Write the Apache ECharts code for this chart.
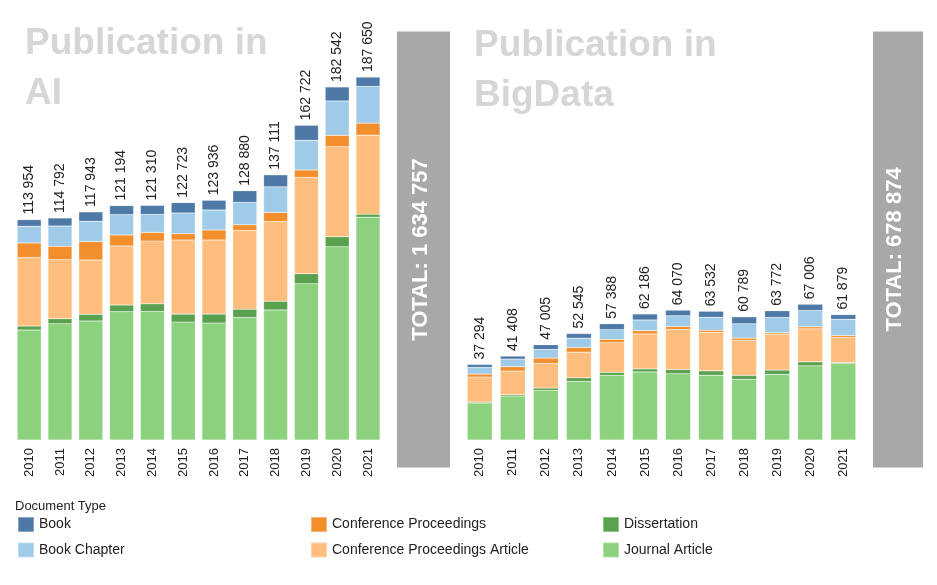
<!DOCTYPE html>
<html lang="en">
<head>
    <meta charset="UTF-8">
    <title>Publication in AI / BigData</title>
    <script src="https://cdn.jsdelivr.net/npm/echarts@6/dist/echarts.min.js"></script>
    <style>
        html, body { margin: 0; padding: 0; background: #fff; }
        #main { width: 937px; height: 585px; }
    </style>
</head>
<body>
<div id="main"></div>
<script>
    var years = ['2010', '2011', '2012', '2013', '2014', '2015', '2016', '2017', '2018', '2019', '2020', '2021'];
    var docTypes = ['Journal Article', 'Dissertation', 'Conference Proceedings Article', 'Conference Proceedings', 'Book Chapter', 'Book'];
    var colors = ['#8cd17d', '#59a14f', '#ffbe7d', '#f28e2b', '#a0cbe8', '#4e79a7'];

    // Publication in AI
    var aiJournal = [56874, 60112, 61533, 66344, 66445, 60953, 60451, 63330, 67241, 80787, 99907, 115205];
    var aiDiss = [2070, 2590, 3450, 3450, 3970, 4140, 4660, 4310, 4490, 5175, 5175, 1550];
    var aiConfArticle = [35350, 30530, 28120, 30530, 32430, 38300, 38300, 40710, 41230, 49850, 46575, 40880];
    var aiConf = [7590, 6900, 9490, 5690, 4490, 3280, 5175, 2930, 4660, 3800, 5870, 6210];
    var aiChapter = [8620, 10520, 10520, 10520, 9315, 10700, 10350, 11560, 13280, 15350, 17770, 18975];
    var aiBook = [3450, 4140, 4830, 4660, 4660, 5350, 5000, 6040, 6210, 7760, 7245, 4830];
    var aiTotals = [113954, 114792, 117943, 121194, 121310, 122723, 123936, 128880, 137111, 162722, 182542, 187650];
    var aiGrand = 1634757;

    // Publication in BigData
    var bdJournal = [18234, 21678, 24495, 28885, 31923, 33596, 32680, 31972, 29904, 32372, 36606, 37729];
    var bdDiss = [490, 660, 1150, 1810, 1480, 1480, 2140, 2140, 1970, 2140, 1970, 490];
    var bdConfArticle = [12320, 11670, 12160, 12650, 14620, 17250, 19720, 19060, 17250, 17750, 16270, 12320];
    var bdConf = [1480, 2140, 2630, 2300, 1640, 1640, 1480, 990, 1150, 660, 990, 990];
    var bdChapter = [3290, 3780, 4270, 4600, 4765, 5260, 5260, 6410, 7065, 7560, 8050, 8050];
    var bdBook = [1480, 1480, 2300, 2300, 2960, 2960, 2790, 2960, 3450, 3290, 3120, 2300];
    var bdTotals = [37294, 41408, 47005, 52545, 57388, 62186, 64070, 63532, 60789, 63772, 67006, 61879];
    var bdGrand = 678874;

    var font = '"Liberation Sans", Arial, sans-serif';

    function fmt(n) {
        return String(n).replace(/\B(?=(\d{3})+(?!\d))/g, ' ');
    }

    function makeSeries(idx, stack, lists, totals, barWidth) {
        var out = [];
        for (var i = 0; i < lists.length; i++) {
            var s = {
                name: docTypes[i],
                type: 'bar',
                stack: stack,
                xAxisIndex: idx,
                yAxisIndex: idx,
                barWidth: barWidth,
                itemStyle: { color: colors[i], borderColor: 'rgba(255,255,255,0.35)', borderWidth: 0.5 },
                data: lists[i]
            };
            if (i == lists.length - 1) {
                s.label = {
                    show: true,
                    position: 'top',
                    rotate: 90,
                    align: 'left',
                    verticalAlign: 'middle',
                    distance: 5,
                    fontFamily: font,
                    fontSize: 14,
                    color: '#222',
                    formatter: function (p) { return fmt(totals[p.dataIndex]); }
                };
            }
            out.push(s);
        }
        return out;
    }

    function totalSeries(idx, value) {
        return {
            name: 'Total',
            type: 'bar',
            xAxisIndex: idx,
            yAxisIndex: idx,
            barWidth: '100%',
            itemStyle: { color: '#a7a9a9' },
            label: {
                show: true,
                position: 'inside',
                rotate: 90,
                offset: [0, -3],
                fontFamily: font,
                fontWeight: 'bold',
                fontSize: 22,
                color: '#fff',
                formatter: 'TOTAL: ' + fmt(value)
            },
            data: [value]
        };
    }

    var catAxis = function (grid, show) {
        return {
            type: 'category',
            gridIndex: grid,
            data: show ? years : ['TOTAL'],
            axisLine: { show: false },
            axisTick: { show: false },
            axisLabel: {
                show: show,
                rotate: 90,
                margin: 8,
                fontFamily: font,
                fontSize: 13,
                color: '#222'
            }
        };
    };
    var valAxis = function (grid, max) {
        return {
            type: 'value',
            gridIndex: grid,
            min: 0,
            max: max,
            show: false
        };
    };

    var legendBase = function (left, names) {
        return {
            orient: 'vertical',
            left: left,
            top: 511,
            icon: 'rect',
            itemWidth: 16,
            itemHeight: 15,
            itemGap: 8.5,
            selectedMode: false,
            textStyle: { fontFamily: font, fontSize: 14, color: '#222' },
            data: names
        };
    };

    var myChart = echarts.init(document.getElementById('main'));
    var option = {
        animation: false,
        title: [
            {
                text: 'Publication in\nAI',
                left: 25,
                top: 19,
                padding: 0,
                textStyle: { fontFamily: font, fontWeight: 'bold', fontSize: 37, lineHeight: 50, color: '#d6d6d6' }
            },
            {
                text: 'Publication in\nBigData',
                left: 474,
                top: 21,
                padding: 0,
                textStyle: { fontFamily: font, fontWeight: 'bold', fontSize: 37, lineHeight: 50, color: '#d6d6d6' }
            }
        ],
        graphic: [
            {
                type: 'text',
                left: 15,
                top: 500,
                style: { text: 'Document Type', fontFamily: font, fontSize: 13, fill: '#222' }
            }
        ],
        legend: [
            legendBase(12, ['Book', 'Book Chapter']),
            legendBase(305, ['Conference Proceedings', 'Conference Proceedings Article']),
            legendBase(597, ['Dissertation', 'Journal Article'])
        ],
        grid: [
            { left: 13.8, width: 369.6, top: 53.2, bottom: 145 },
            { left: 463.2, width: 396.6, top: 34.7, bottom: 145 },
            { left: 397, width: 53, top: 31.5, height: 436 },
            { left: 873, width: 50, top: 31.5, height: 436 }
        ],
        xAxis: [catAxis(0, true), catAxis(1, true), catAxis(2, false), catAxis(3, false)],
        yAxis: [valAxis(0, 200000), valAxis(1, 200000), valAxis(2, aiGrand), valAxis(3, bdGrand)],
        series: []
            .concat(makeSeries(0, 'ai', [aiJournal, aiDiss, aiConfArticle, aiConf, aiChapter, aiBook], aiTotals, 24))
            .concat(makeSeries(1, 'bd', [bdJournal, bdDiss, bdConfArticle, bdConf, bdChapter, bdBook], bdTotals, 25))
            .concat([totalSeries(2, aiGrand), totalSeries(3, bdGrand)])
    };
    myChart.setOption(option);
</script>
</body>
</html>
